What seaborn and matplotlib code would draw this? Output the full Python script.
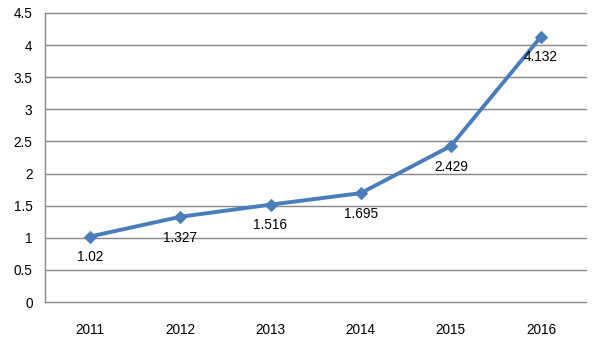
import matplotlib
matplotlib.use("Agg")
import matplotlib.pyplot as plt
import seaborn as sns
import pandas as pd

years = ["2011", "2012", "2013", "2014", "2015", "2016"]
values = [1.02, 1.327, 1.516, 1.695, 2.429, 4.132]
value_labels = ["1.02", "1.327", "1.516", "1.695", "2.429", "4.132"]
y_ticks = [0, 0.5, 1, 1.5, 2, 2.5, 3, 3.5, 4, 4.5]
y_tick_labels = ["0", "0.5", "1", "1.5", "2", "2.5", "3", "3.5", "4", "4.5"]

sns.set_style("white")
plt.rcParams["font.family"] = ["Liberation Sans", "DejaVu Sans"]

df = pd.DataFrame({"year": years, "value": values})

fig = plt.figure(figsize=(6.0, 3.48), dpi=100)
ax = fig.add_axes([0.075, 0.132, 0.902, 0.831])

line_color = "#4A7EBB"
sns.lineplot(data=df, x="year", y="value", ax=ax, color=line_color,
             linewidth=2.8, marker="D", markersize=6.5,
             markeredgecolor=line_color, sort=False, zorder=3)

ax.set_xlim(-0.5, len(years) - 0.5)
ax.set_ylim(0, 4.5)
ax.set_yticks(y_ticks)
ax.set_yticklabels(y_tick_labels)
ax.set_xlabel("")
ax.set_ylabel("")

ax.yaxis.grid(True, color="#868686", linewidth=1.0)
for gl in ax.yaxis.get_gridlines():
    gl.set_clip_on(False)
ax.set_axisbelow(True)
for side in ["top", "right", "bottom"]:
    ax.spines[side].set_visible(False)
ax.spines["left"].set_color("#868686")
ax.spines["left"].set_linewidth(1.0)
ax.tick_params(axis="both", length=0, labelsize=9.8, colors="black")
ax.tick_params(axis="x", pad=15)
ax.tick_params(axis="y", pad=9)

for i, (v, lab) in enumerate(zip(values, value_labels)):
    ax.annotate(lab, xy=(i, v), xytext=(0, -15), textcoords="offset points",
                ha="center", va="center", fontsize=9.8, color="black")

fig.savefig("out.png", dpi=100)
